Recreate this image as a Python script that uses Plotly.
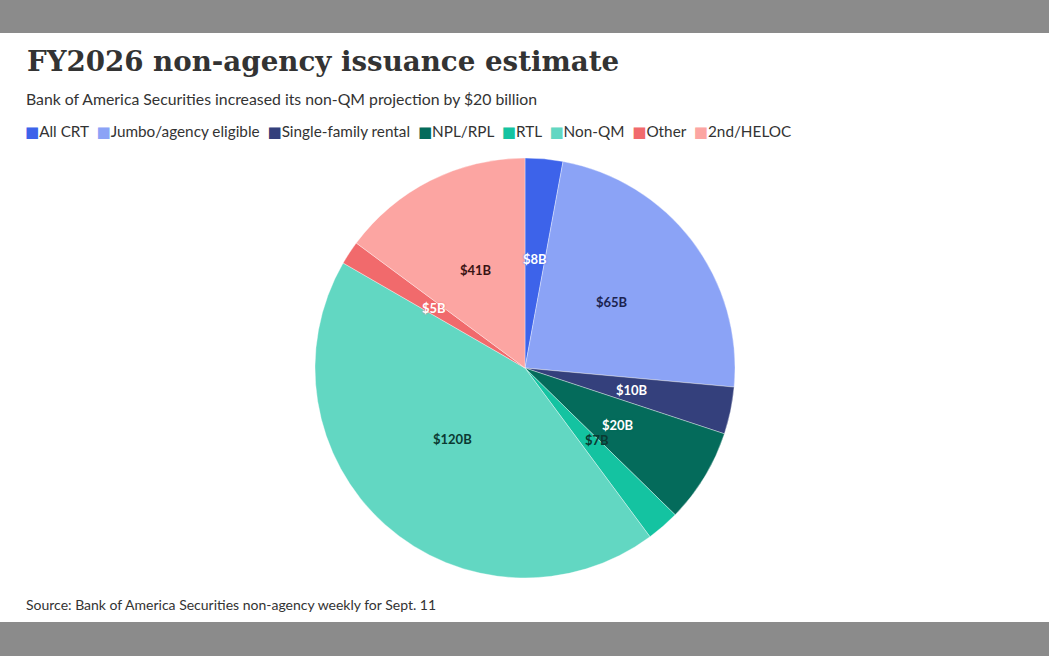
import math
import plotly.graph_objects as go

# --- data -------------------------------------------------------------------
categories = ["All CRT", "Jumbo/agency eligible", "Single-family rental", "NPL/RPL",
              "RTL", "Non-QM", "Other", "2nd/HELOC"]
values = [8, 65, 10, 20, 7, 120, 5, 41]
value_labels = ["$8B", "$65B", "$10B", "$20B", "$7B", "$120B", "$5B", "$41B"]

colors = ["#3d63ea", "#8ba3f6", "#34407c", "#046b5b", "#14c3a1", "#62d7c2", "#f16a6c", "#fca5a2"]
label_colors = ["#ffffff", "#1c2350", "#ffffff", "#ffffff", "#0b3a32", "#0b3a32", "#ffffff", "#3a1414"]

W, H = 1049, 656
CX, CY, R = 525, 368, 210  # pie centre / radius in pixels

fig = go.Figure()

fig.add_trace(go.Pie(
    labels=categories,
    values=values,
    marker=dict(colors=colors, line=dict(color="rgba(255,255,255,0.6)", width=0.6)),
    sort=False,
    direction="clockwise",
    rotation=0,
    textinfo="none",
    hoverinfo="label+value",
    showlegend=False,
    domain=dict(x=[(CX - R) / W, (CX + R) / W], y=[(H - CY - R) / H, (H - CY + R) / H]),
))

# slice labels, placed at about half radius on each slice's mid angle
total = sum(values)
cum = 0
for v, txt, col, fill in zip(values, value_labels, label_colors, colors):
    mid = (cum + v / 2) / total * 2 * math.pi
    cum += v
    px = CX + 0.52 * R * math.sin(mid)
    py = CY - 0.52 * R * math.cos(mid)
    fig.add_annotation(
        x=px / W, y=1 - py / H, xref="paper", yref="paper",
        text=f"<b>{txt}</b>", showarrow=False,
        font=dict(family="Lato", size=13, color=col,
                  shadow=(f"0 0 2px {fill}" if col == "#ffffff" else "none")),
    )

# header texts
fig.add_annotation(x=25 / W, y=1 - 62 / H, xref="paper", yref="paper", xanchor="left",
                   yanchor="middle", showarrow=False,
                   text="<b>FY2026 non-agency issuance estimate</b>",
                   font=dict(family="DejaVu Serif", size=27.7, color="#333333"))
fig.add_annotation(x=24 / W, y=1 - 98 / H, xref="paper", yref="paper", xanchor="left",
                   yanchor="middle", showarrow=False,
                   text="Bank of America Securities increased its non-QM projection by $20 billion",
                   font=dict(family="Lato", size=15.8, color="#333333"))

# legend as one line of coloured markers + names
legend_text = "&nbsp;&nbsp;".join(
    f"<span style='color:{c};font-family:DejaVu Sans;font-size:15px'>■</span>{name}"
    for c, name in zip(colors, categories)
)
fig.add_annotation(x=23 / W, y=1 - 131 / H, xref="paper", yref="paper", xanchor="left",
                   yanchor="middle", showarrow=False, text=legend_text,
                   font=dict(family="Lato", size=15.3, color="#333333"))

fig.add_annotation(x=24 / W, y=1 - 604 / H, xref="paper", yref="paper", xanchor="left",
                   yanchor="middle", showarrow=False,
                   text="Source: Bank of America Securities non-agency weekly for Sept. 11",
                   font=dict(family="Lato", size=14, color="#333333"))

# white card over grey backdrop
fig.add_shape(type="rect", xref="paper", yref="paper", x0=0, x1=1,
              y0=1 - 622 / H, y1=1 - 33 / H, fillcolor="white", line_width=0, layer="below")

fig.update_layout(
    width=W, height=H,
    margin=dict(l=0, r=0, t=0, b=0),
    paper_bgcolor="#8b8b8b",
    plot_bgcolor="white",
)

fig.write_html("out.html", config={"displayModeBar": False},
               post_script="document.body.style.margin='0';")
